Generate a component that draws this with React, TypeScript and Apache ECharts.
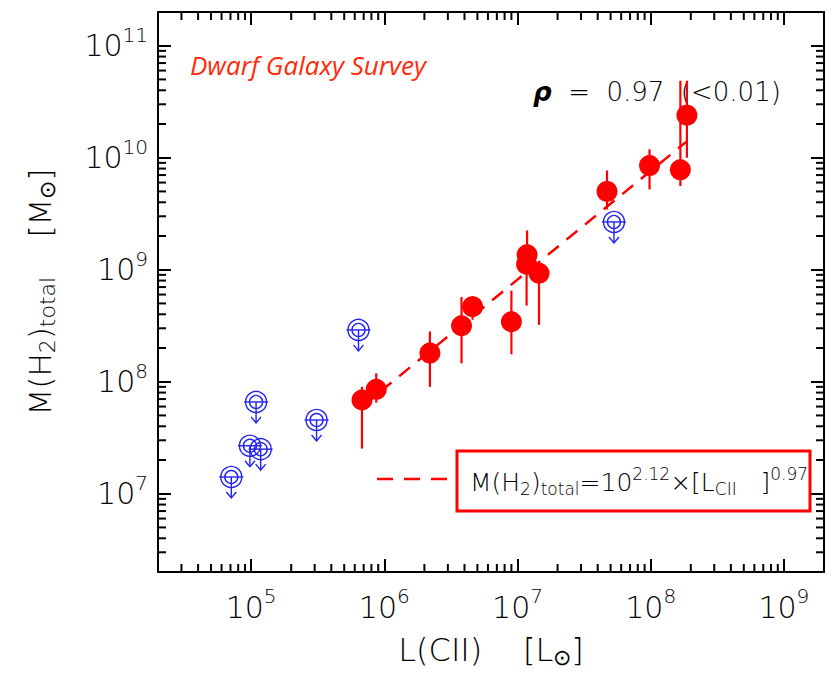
import React, { useEffect, useRef } from "react";
import * as echarts from "echarts";

// ---- data ----
// detections: L(CII) [Lsun], M(H2) [Msun], error bar low / high
const detL = [6.8e5, 8.7e5, 2.2e6, 3.8e6, 4.6e6, 9.0e6, 1.18e7, 1.17e7, 1.45e7, 4.7e7, 9.8e7, 1.67e8, 1.87e8];
const detM = [6.87e7, 8.55e7, 1.8e8, 3.16e8, 4.68e8, 3.43e8, 1.36e9, 1.12e9, 9.3e8, 5.0e9, 8.5e9, 7.8e9, 2.4e10];
const detLo = [2.53e7, 6.5e7, 9.0e7, 1.46e8, 3.57e8, 1.76e8, 1.0e9, 4.78e8, 3.22e8, 3.45e9, 5.21e9, 5.58e9, 1.0e10];
const detHi = [9.0e7, 1.19e8, 2.81e8, 5.7e8, 5.8e8, 6.5e8, 2.24e9, 1.4e9, 1.1e9, 7.7e9, 1.19e10, 4.87e10, 4.87e10];
// upper limits
const limL = [6.4e5, 1.09e5, 3.1e5, 9.8e4, 1.18e5, 7.1e4, 5.3e7];
const limM = [2.9e8, 6.6e7, 4.55e7, 2.68e7, 2.5e7, 1.41e7, 2.67e9];
// fit line end points
const fitL = [6.8e5, 1.87e8];
const fitM = [6.0e7, 1.4e10];
// axis ranges
const xMin = 2e4, xMax = 2e9, yMin = 2e6, yMax = 2e11;
const xDecades = [4, 5, 6, 7, 8, 9];
const yDecades = [6, 7, 8, 9, 10, 11];

const RED = "#ff0000";
const BLUE = "#2323f0";
const FONT = "DejaVu Sans";
const FW = 300;

function minorTicks(decades: number[], lo: number, hi: number) {
  const out: number[] = [];
  decades.forEach((e) => {
    for (let k = 2; k <= 9; k++) {
      const v = k * Math.pow(10, e);
      if (v > lo * 1.0001 && v < hi / 1.0001) out.push(v);
    }
  });
  return out;
}

const powLabel = (v: number) => {
  const e = Math.log10(v);
  if (Math.abs(e - Math.round(e)) > 1e-6) return "";
  return `{b|10}{s|${Math.round(e)}}`;
};

const labelRich = {
  b: { fontSize: 30, fontFamily: FONT, fontWeight: FW, color: "#000" },
  s: { fontSize: 20, fontFamily: FONT, fontWeight: FW, color: "#000", padding: [0, 0, 22, 0] },
};

export default function App() {
  const ref = useRef<HTMLDivElement>(null);
  useEffect(() => {
    document.body.style.margin = "0";
    if (!ref.current) return;
    const chart = echarts.init(ref.current, null, { renderer: "svg" });
    const xm = minorTicks(xDecades, xMin, xMax);
    const ym = minorTicks(yDecades, yMin, yMax);
    const axisCommon = {
      type: "log" as const,
      logBase: 10,
      axisLine: { lineStyle: { color: "#000", width: 2 } },
      axisTick: { inside: true, length: 13, lineStyle: { color: "#000", width: 2 } },
      splitLine: { show: false },
      minorTick: { show: false },
    };
    const option: any = {
      animation: false,
      grid: { left: 158, top: 12, width: 678, height: 560 },
      xAxis: [
        {
          ...axisCommon,
          min: xMin,
          max: xMax,
          position: "bottom",
          axisLabel: { formatter: powLabel, rich: labelRich, margin: 14 },
          name: "{n|L(CII)    [L}{sub|⊙}{n|]}",
          nameLocation: "middle",
          nameGap: 60,
          nameTextStyle: {
            rich: {
              n: { fontSize: 32, fontFamily: FONT, fontWeight: FW, color: "#000" },
              sub: { fontSize: 22, fontFamily: FONT, fontWeight: FW, color: "#000", padding: [14, 0, 0, 0] },
            },
          },
        },
        { ...axisCommon, min: xMin, max: xMax, position: "top", axisLabel: { show: false } },
      ],
      yAxis: [
        {
          ...axisCommon,
          min: yMin,
          max: yMax,
          position: "left",
          axisLabel: { formatter: powLabel, rich: labelRich, margin: 10 },
          name: "{n|M(H}{sub|2}{n|)}{sub|total}{n|    [M}{sub|⊙}{n|]}",
          nameLocation: "middle",
          nameGap: 100,
          nameRotate: 90,
          nameTextStyle: {
            rich: {
              n: { fontSize: 31, fontFamily: FONT, fontWeight: FW, color: "#000" },
              sub: { fontSize: 22, fontFamily: FONT, fontWeight: FW, color: "#000", padding: [15, 0, 0, 0] },
            },
          },
        },
        { ...axisCommon, min: yMin, max: yMax, position: "right", axisLabel: { show: false } },
      ],
      series: [
        {
          type: "custom",
          data: xm.map((v) => [v, yMin]),
          silent: true,
          renderItem: (_p: any, api: any) => {
            const v = api.value(0);
            const b = api.coord([v, yMin]);
            const t = api.coord([v, yMax]);
            const st = { stroke: "#000", lineWidth: 2 };
            return {
              type: "group",
              children: [
                { type: "line", shape: { x1: b[0], y1: b[1], x2: b[0], y2: b[1] - 8 }, style: st },
                { type: "line", shape: { x1: t[0], y1: t[1], x2: t[0], y2: t[1] + 8 }, style: st },
              ],
            };
          },
        },
        {
          type: "custom",
          data: ym.map((v) => [xMin, v]),
          silent: true,
          renderItem: (_p: any, api: any) => {
            const v = api.value(1);
            const l = api.coord([xMin, v]);
            const r = api.coord([xMax, v]);
            const st = { stroke: "#000", lineWidth: 2 };
            return {
              type: "group",
              children: [
                { type: "line", shape: { x1: l[0], y1: l[1], x2: l[0] + 8, y2: l[1] }, style: st },
                { type: "line", shape: { x1: r[0], y1: r[1], x2: r[0] - 8, y2: r[1] }, style: st },
              ],
            };
          },
        },
        {
          type: "line",
          data: fitL.map((l, i) => [l, fitM[i]]),
          symbol: "none",
          lineStyle: { color: RED, width: 2.5, type: [14, 10] },
          z: 2,
        },
        {
          type: "custom",
          data: detL.map((l, i) => [l, detLo[i], detHi[i]]),
          z: 3,
          renderItem: (_p: any, api: any) => {
            const a = api.coord([api.value(0), api.value(1)]);
            const b = api.coord([api.value(0), api.value(2)]);
            return {
              type: "line",
              shape: { x1: a[0], y1: a[1], x2: b[0], y2: b[1] },
              style: { stroke: RED, lineWidth: 2.2 },
            };
          },
        },
        {
          type: "scatter",
          data: detL.map((l, i) => [l, detM[i]]),
          symbol: "circle",
          symbolSize: 21,
          itemStyle: { color: RED, opacity: 1 },
          z: 4,
        },
        {
          type: "custom",
          data: limL.map((l, i) => [l, limM[i]]),
          z: 5,
          renderItem: (_p: any, api: any) => {
            const c = api.coord([api.value(0), api.value(1)]);
            const [cx, cy] = c;
            const st = { stroke: BLUE, lineWidth: 1.4, fill: "none" };
            return {
              type: "group",
              children: [
                { type: "circle", shape: { cx, cy, r: 10.5 }, style: st },
                { type: "circle", shape: { cx, cy, r: 6.5 }, style: st },
                { type: "line", shape: { x1: cx - 12, y1: cy, x2: cx + 12, y2: cy }, style: st },
                { type: "line", shape: { x1: cx, y1: cy, x2: cx, y2: cy + 21 }, style: st },
                { type: "polyline", shape: { points: [[cx - 5, cy + 15], [cx, cy + 21], [cx + 5, cy + 15]] }, style: st },
              ],
            };
          },
        },
      ],
      graphic: [
        {
          type: "text",
          x: 190,
          y: 65,
          style: {
            text: "Dwarf Galaxy Survey",
            fontSize: 26,
            fontStyle: "italic",
            fontFamily: "Open Sans",
            fill: "#ff2a0a",
            verticalAlign: "middle",
          },
        },
        {
          type: "text",
          x: 533,
          y: 92,
          style: {
            text: "{r|ρ}{n|  =  0.97  (<0.01)}",
            verticalAlign: "middle",
            rich: {
              r: { fontSize: 26, fontFamily: "DejaVu Sans", fontWeight: "bold", fontStyle: "italic", fill: "#000" },
              n: { fontSize: 26, fontFamily: FONT, fontWeight: FW, fill: "#000" },
            },
          },
        },
        {
          type: "line",
          shape: { x1: 377, y1: 479, x2: 447, y2: 479 },
          style: { stroke: RED, lineWidth: 2.5, lineDash: [16, 11] },
        },
        {
          type: "text",
          x: 470,
          y: 482,
          style: {
            text: "{n|M(H}{sub|2}{n|)}{sub|total}{n|=10}{sup|2.12}{n|×[L}{sub|CII}{n|   ]}{sup|0.97}",
            verticalAlign: "middle",
            rich: {
              n: { fontSize: 25, fontFamily: FONT, fontWeight: FW, fill: "#000" },
              sub: { fontSize: 17, fontFamily: FONT, fontWeight: FW, fill: "#000", padding: [14, 0, 0, 0] },
              sup: { fontSize: 17, fontFamily: FONT, fontWeight: FW, fill: "#000", padding: [0, 0, 16, 0] },
            },
          },
        },
        {
          type: "rect",
          shape: { x: 457, y: 451, width: 353, height: 60 },
          style: { stroke: RED, lineWidth: 3, fill: "none" },
        },
      ],
    };
    chart.setOption(option);
    return () => chart.dispose();
  }, []);
  return <div ref={ref} style={{ width: 827, height: 675 }} />;
}
